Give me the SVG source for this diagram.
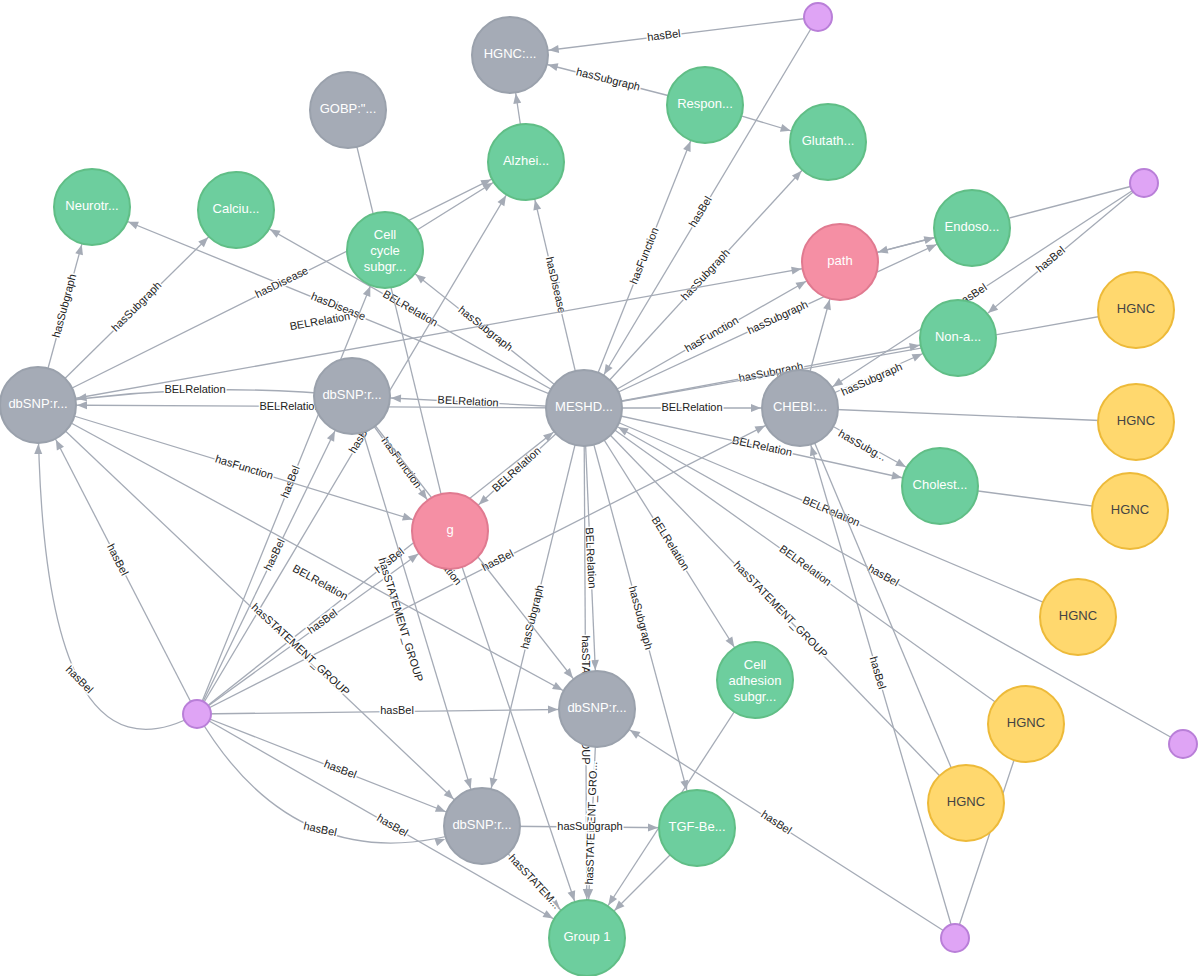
<svg xmlns="http://www.w3.org/2000/svg" width="1200" height="976" viewBox="0 0 1200 976">
<style>
.e{stroke:#a5abb6;stroke-width:1.3;fill:none}
.eb{marker-end:url(#ab)}.es{marker-end:url(#as)}
.l{font-family:"Liberation Sans",Arial,sans-serif;font-size:11px;fill:#222;text-anchor:middle;dominant-baseline:middle;stroke:#fff;stroke-width:3;paint-order:stroke}
.t{font-family:"Liberation Sans",Arial,sans-serif;font-size:13px;fill:#fff;text-anchor:middle;dominant-baseline:middle}
.gr{fill:#a5abb6;stroke:#9aa1ac;stroke-width:2}
.gn{fill:#6dce9e;stroke:#60be86;stroke-width:2}
.pk{fill:#f58fa4;stroke:#e07a90;stroke-width:2}
.yl{fill:#ffd86e;stroke:#edba39;stroke-width:2}
.pp{fill:#dfa4f5;stroke:#b97fd8;stroke-width:2}
</style>
<defs>
<marker id="ab" markerUnits="userSpaceOnUse" viewBox="0 0 10 10" refX="49" refY="5" markerWidth="50" markerHeight="10" orient="auto"><path d="M0,1 L10,5 L0,9z" fill="#a5abb6"/></marker>
<marker id="as" markerUnits="userSpaceOnUse" viewBox="0 0 10 10" refX="26" refY="5" markerWidth="27" markerHeight="10" orient="auto"><path d="M0,1 L10,5 L0,9z" fill="#a5abb6"/></marker>
</defs>
<rect width="1200" height="976" fill="#fff"/>
<g id="connectors">
<line class="e eb" x1="584" y1="408" x2="526" y2="162"/><text class="l" transform="translate(555,285) rotate(77)">hasDisease</text>
<line class="e eb" x1="526" y1="162" x2="510" y2="55"/>
<line class="e eb" x1="584" y1="408" x2="840" y2="262"/><text class="l" transform="translate(712,335) rotate(-30)">hasFunction</text>
<line class="e eb" x1="584" y1="408" x2="236" y2="210"/><text class="l" transform="translate(410,309) rotate(30)">BELRelation</text>
<line class="e eb" x1="584" y1="408" x2="92" y2="207"/><text class="l" transform="translate(338,307) rotate(22)">hasDisease</text>
<line class="e eb" x1="584" y1="408" x2="385" y2="250"/><text class="l" transform="translate(485,329) rotate(38)">hasSubgraph</text>
<line class="e eb" x1="584" y1="408" x2="352" y2="396"/><text class="l" transform="translate(468,402) rotate(3)">BELRelation</text>
<line class="e eb" x1="584" y1="408" x2="38" y2="405"/><text class="l" transform="translate(290,407)">BELRelation</text>
<line class="e eb" x1="584" y1="408" x2="450" y2="531"/><text class="l" transform="translate(517,470) rotate(-42)">BELRelation</text>
<line class="e eb" x1="584" y1="408" x2="828" y2="142"/><text class="l" transform="translate(706,275) rotate(-47)">hasSubgraph</text>
<line class="e eb" x1="584" y1="408" x2="705" y2="105"/><text class="l" transform="translate(645,256) rotate(-68)">hasFunction</text>
<line class="e eb" x1="584" y1="408" x2="972" y2="228"/><text class="l" transform="translate(778,318) rotate(-25)">hasSubgraph</text>
<line class="e eb" x1="584" y1="408" x2="958" y2="338"/><text class="l" transform="translate(771,373) rotate(-11)">hasSubgraph</text>
<line class="e eb" x1="584" y1="408" x2="800" y2="408"/><text class="l" transform="translate(692,408)">BELRelation</text>
<line class="e eb" x1="584" y1="408" x2="940" y2="486"/><text class="l" transform="translate(762,447) rotate(12)">BELRelation</text>
<line class="e eb" x1="584" y1="408" x2="755" y2="680"/><text class="l" transform="translate(670,544) rotate(58)">BELRelation</text>
<line class="e eb" x1="584" y1="408" x2="597" y2="709"/><text class="l" transform="translate(590,558) rotate(87)">BELRelation</text>
<line class="e eb" x1="584" y1="408" x2="482" y2="826"/><text class="l" transform="translate(533,617) rotate(-76)">hasSubgraph</text>
<line class="e eb" x1="584" y1="408" x2="697" y2="828"/><text class="l" transform="translate(640,618) rotate(75)">hasSubgraph</text>
<line class="e eb" x1="584" y1="408" x2="587" y2="938"/><text class="l" transform="translate(585,700) rotate(90)">hasSTATEMENT_GROUP</text>
<line class="e" x1="584" y1="408" x2="1078" y2="617"/><text class="l" transform="translate(831,512) rotate(23)">BELRelation</text>
<line class="e" x1="584" y1="408" x2="1026" y2="724"/><text class="l" transform="translate(805,566) rotate(36)">BELRelation</text>
<line class="e" x1="584" y1="408" x2="966" y2="803"/><text class="l" transform="translate(780,610) rotate(46)">hasSTATEMENT_GROUP</text>
<line class="e eb" x1="197" y1="714" x2="38" y2="405"/><text class="l" transform="translate(117,560) rotate(63)">hasBel</text>
<line class="e eb" x1="197" y1="714" x2="352" y2="396"/><text class="l" transform="translate(275,555) rotate(-64)">hasBel</text>
<line class="e eb" x1="197" y1="714" x2="584" y2="408"/><text class="l" transform="translate(390,561) rotate(-38)">hasBel</text>
<line class="e eb" x1="197" y1="714" x2="450" y2="531"/><text class="l" transform="translate(323,622) rotate(-36)">hasBel</text>
<line class="e eb" x1="197" y1="714" x2="597" y2="709"/><text class="l" transform="translate(397,711)">hasBel</text>
<line class="e eb" x1="197" y1="714" x2="482" y2="826"/><text class="l" transform="translate(340,770) rotate(21)">hasBel</text>
<line class="e eb" x1="197" y1="714" x2="587" y2="938"/><text class="l" transform="translate(392,826) rotate(30)">hasBel</text>
<line class="e eb" x1="197" y1="714" x2="385" y2="250"/><text class="l" transform="translate(291,482) rotate(-68)">hasBel</text>
<line class="e eb" x1="197" y1="714" x2="800" y2="408"/><text class="l" transform="translate(498,561) rotate(-27)">hasBel</text>
<line class="e eb" x1="197" y1="714" x2="526" y2="162"/><text class="l" transform="translate(361,438) rotate(-59)">hasBel</text>
<path class="e eb" d="M197,714 Q40,800 38,405"/><text class="l" transform="translate(79,680) rotate(45)">hasBel</text>
<path class="e eb" d="M197,714 Q300,890 482,826"/><text class="l" transform="translate(320,830) rotate(12)">hasBel</text>
<line class="e eb" x1="38" y1="405" x2="92" y2="207"/><text class="l" transform="translate(65,306) rotate(-75)">hasSubgraph</text>
<line class="e eb" x1="38" y1="405" x2="236" y2="210"/><text class="l" transform="translate(137,307) rotate(-45)">hasSubgraph</text>
<line class="e eb" x1="38" y1="405" x2="526" y2="162"/><text class="l" transform="translate(282,283) rotate(-26)">hasDisease</text>
<line class="e eb" x1="38" y1="405" x2="840" y2="262"/><text class="l" transform="translate(320,322) rotate(-10)">BELRelation</text>
<path class="e eb" d="M352,396 Q195,380 38,405"/><text class="l" transform="translate(195,390)">BELRelation</text>
<line class="e eb" x1="38" y1="405" x2="450" y2="531"/><text class="l" transform="translate(244,468) rotate(17)">hasFunction</text>
<line class="e eb" x1="352" y1="396" x2="450" y2="531"/><text class="l" transform="translate(401,463) rotate(54)">hasFunction</text>
<line class="e eb" x1="597" y1="709" x2="587" y2="938"/><text class="l" transform="translate(592,823) rotate(-88)">hasSTATEMENT_GRO...</text>
<line class="e eb" x1="482" y1="826" x2="587" y2="938"/><text class="l" transform="translate(534,882) rotate(47)">hasSTATEM...</text>
<line class="e eb" x1="482" y1="826" x2="697" y2="828"/><text class="l" transform="translate(590,827)">hasSubgraph</text>
<line class="e eb" x1="697" y1="828" x2="587" y2="938"/>
<line class="e eb" x1="755" y1="680" x2="587" y2="938"/>
<line class="e eb" x1="955" y1="938" x2="800" y2="408"/><text class="l" transform="translate(877,673) rotate(74)">hasBel</text>
<line class="e eb" x1="955" y1="938" x2="597" y2="709"/><text class="l" transform="translate(776,823) rotate(33)">hasBel</text>
<line class="e eb" x1="1183" y1="744" x2="584" y2="408"/><text class="l" transform="translate(883,576) rotate(29)">hasBel</text>
<line class="e eb" x1="1144" y1="183" x2="958" y2="338"/><text class="l" transform="translate(1051,260) rotate(-40)">hasBel</text>
<line class="e eb" x1="1144" y1="183" x2="840" y2="262"/><text class="l" transform="translate(992,222) rotate(-15)">hasBel</text>
<line class="e eb" x1="1144" y1="183" x2="800" y2="408"/><text class="l" transform="translate(972,296) rotate(-33)">hasBel</text>
<line class="e eb" x1="818" y1="17" x2="510" y2="55"/><text class="l" transform="translate(664,36) rotate(-7)">hasBel</text>
<line class="e eb" x1="818" y1="17" x2="584" y2="408"/><text class="l" transform="translate(701,212) rotate(-59)">hasBel</text>
<line class="e eb" x1="705" y1="105" x2="510" y2="55"/><text class="l" transform="translate(608,80) rotate(14)">hasSubgraph</text>
<line class="e eb" x1="705" y1="105" x2="828" y2="142"/>
<line class="e" x1="348" y1="110" x2="450" y2="531"/>
<line class="e eb" x1="385" y1="250" x2="526" y2="162"/>
<line class="e eb" x1="800" y1="408" x2="840" y2="262"/>
<line class="e eb" x1="800" y1="408" x2="958" y2="338"/><text class="l" transform="translate(872,380) rotate(-24)">hasSubgraph</text>
<line class="e eb" x1="800" y1="408" x2="940" y2="486"/><text class="l" transform="translate(862,446) rotate(29)">hasSubg...</text>
<line class="e eb" x1="840" y1="262" x2="972" y2="228"/>
<line class="e" x1="1136" y1="310" x2="584" y2="408"/>
<line class="e" x1="1136" y1="422" x2="800" y2="408"/>
<line class="e" x1="1130" y1="511" x2="940" y2="486"/>
<line class="e" x1="1026" y1="724" x2="955" y2="938"/>
<line class="e" x1="966" y1="803" x2="800" y2="408"/>
<line class="e eb" x1="352" y1="396" x2="597" y2="709"/><text class="l" transform="translate(440,560) rotate(52)">BELRelation</text>
<line class="e eb" x1="352" y1="396" x2="482" y2="826"/><text class="l" transform="translate(400,620) rotate(73)">hasSTATEMENT_GROUP</text>
<line class="e eb" x1="450" y1="531" x2="587" y2="938"/>
<line class="e eb" x1="38" y1="405" x2="482" y2="826"/><text class="l" transform="translate(300,650) rotate(43)">hasSTATEMENT_GROUP</text>
<line class="e eb" x1="38" y1="405" x2="597" y2="709"/><text class="l" transform="translate(320,583) rotate(29)">BELRelation</text>
</g>
<g id="n-p1"><circle class="pp" cx="818" cy="17" r="14"/></g>
<g id="n-hgnc0"><circle class="gr" cx="510" cy="55" r="38"/><text class="t" x="510" y="55">HGNC:...</text></g>
<g id="n-gobp"><circle class="gr" cx="348" cy="110" r="38"/><text class="t" x="348" y="110">GOBP:"...</text></g>
<g id="n-respon"><circle class="gn" cx="705" cy="105" r="38"/><text class="t" x="705" y="105">Respon...</text></g>
<g id="n-gluta"><circle class="gn" cx="828" cy="142" r="38"/><text class="t" x="828" y="142">Glutath...</text></g>
<g id="n-alz"><circle class="gn" cx="526" cy="162" r="38"/><text class="t" x="526" y="162">Alzhei...</text></g>
<g id="n-neuro"><circle class="gn" cx="92" cy="207" r="38"/><text class="t" x="92" y="207">Neurotr...</text></g>
<g id="n-calc"><circle class="gn" cx="236" cy="210" r="38"/><text class="t" x="236" y="210">Calciu...</text></g>
<g id="n-cellcycle"><circle class="gn" cx="385" cy="250" r="38"/><text class="t" x="385" y="236">Cell</text><text class="t" x="385" y="252">cycle</text><text class="t" x="385" y="268">subgr...</text></g>
<g id="n-path"><circle class="pk" cx="840" cy="262" r="38"/><text class="t" x="840" y="262">path</text></g>
<g id="n-endo"><circle class="gn" cx="972" cy="228" r="38"/><text class="t" x="972" y="228">Endoso...</text></g>
<g id="n-p2"><circle class="pp" cx="1144" cy="183" r="14"/></g>
<g id="n-hgnc1"><circle class="yl" cx="1136" cy="310" r="38"/><text class="t" x="1136" y="310" style="fill:#444">HGNC</text></g>
<g id="n-nona"><circle class="gn" cx="958" cy="338" r="38"/><text class="t" x="958" y="338">Non-a...</text></g>
<g id="n-db1"><circle class="gr" cx="38" cy="405" r="38"/><text class="t" x="38" y="405">dbSNP:r...</text></g>
<g id="n-db2"><circle class="gr" cx="352" cy="396" r="38"/><text class="t" x="352" y="396">dbSNP:r...</text></g>
<g id="n-mesh"><circle class="gr" cx="584" cy="408" r="38"/><text class="t" x="584" y="408">MESHD...</text></g>
<g id="n-chebi"><circle class="gr" cx="800" cy="408" r="38"/><text class="t" x="800" y="408">CHEBI:...</text></g>
<g id="n-hgnc2"><circle class="yl" cx="1136" cy="422" r="38"/><text class="t" x="1136" y="422" style="fill:#444">HGNC</text></g>
<g id="n-chol"><circle class="gn" cx="940" cy="486" r="38"/><text class="t" x="940" y="486">Cholest...</text></g>
<g id="n-hgnc3"><circle class="yl" cx="1130" cy="511" r="38"/><text class="t" x="1130" y="511" style="fill:#444">HGNC</text></g>
<g id="n-g"><circle class="pk" cx="450" cy="531" r="38"/><text class="t" x="450" y="531">g</text></g>
<g id="n-hgnc4"><circle class="yl" cx="1078" cy="617" r="38"/><text class="t" x="1078" y="617" style="fill:#444">HGNC</text></g>
<g id="n-celladh"><circle class="gn" cx="755" cy="680" r="38"/><text class="t" x="755" y="666">Cell</text><text class="t" x="755" y="682">adhesion</text><text class="t" x="755" y="698">subgr...</text></g>
<g id="n-p3"><circle class="pp" cx="197" cy="714" r="14"/></g>
<g id="n-db3"><circle class="gr" cx="597" cy="709" r="38"/><text class="t" x="597" y="709">dbSNP:r...</text></g>
<g id="n-hgnc5"><circle class="yl" cx="1026" cy="724" r="38"/><text class="t" x="1026" y="724" style="fill:#444">HGNC</text></g>
<g id="n-p4"><circle class="pp" cx="1183" cy="744" r="14"/></g>
<g id="n-hgnc6"><circle class="yl" cx="966" cy="803" r="38"/><text class="t" x="966" y="803" style="fill:#444">HGNC</text></g>
<g id="n-db4"><circle class="gr" cx="482" cy="826" r="38"/><text class="t" x="482" y="826">dbSNP:r...</text></g>
<g id="n-tgf"><circle class="gn" cx="697" cy="828" r="38"/><text class="t" x="697" y="828">TGF-Be...</text></g>
<g id="n-group1"><circle class="gn" cx="587" cy="938" r="38"/><text class="t" x="587" y="938">Group 1</text></g>
<g id="n-p5"><circle class="pp" cx="955" cy="938" r="14"/></g>
</svg>
